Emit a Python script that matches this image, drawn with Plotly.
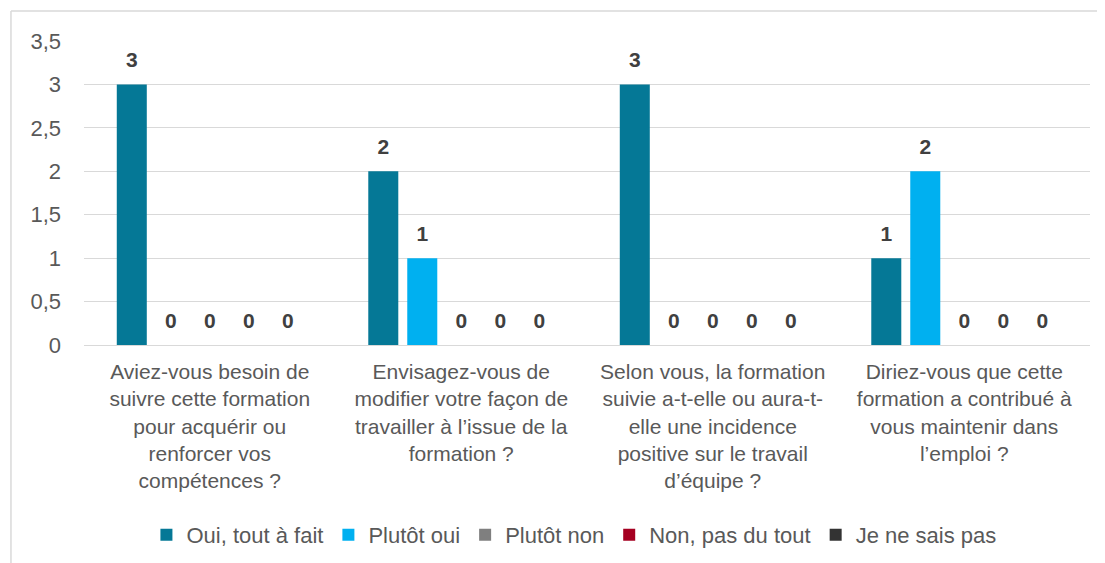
import plotly.graph_objects as go

categories = [
    "Aviez-vous besoin de<br>suivre cette formation<br>pour acquérir ou<br>renforcer vos<br>compétences ?",
    "Envisagez-vous de<br>modifier votre façon de<br>travailler à l’issue de la<br>formation ?",
    "Selon vous, la formation<br>suivie a-t-elle ou aura-t-<br>elle une incidence<br>positive sur le travail<br>d’équipe ?",
    "Diriez-vous que cette<br>formation a contribué à<br>vous maintenir dans<br>l’emploi ?",
]
series_names = ["Oui, tout à fait", "Plutôt oui", "Plutôt non", "Non, pas du tout", "Je ne sais pas"]
oui_tout_a_fait = [3, 2, 3, 1]
plutot_oui = [0, 1, 0, 2]
plutot_non = [0, 0, 0, 0]
non_pas_du_tout = [0, 0, 0, 0]
je_ne_sais_pas = [0, 0, 0, 0]
series_values = [oui_tout_a_fait, plutot_oui, plutot_non, non_pas_du_tout, je_ne_sais_pas]
colors = ["#057896", "#00B0F0", "#7F7F7F", "#A50021", "#333333"]
y_ticks = [0, 0.5, 1, 1.5, 2, 2.5, 3, 3.5]
y_tick_labels = ["0", "0,5", "1", "1,5", "2", "2,5", "3", "3,5"]

FONT = "Liberation Sans"
TXT = "#595959"

fig = go.Figure()
for i, (name, vals, col) in enumerate(zip(series_names, series_values, colors)):
    fig.add_trace(go.Bar(
        x=categories, y=vals, name=name, marker=dict(color=col, line=dict(width=0)),
        offsetgroup=str(i), hoverinfo="skip",
    ))
for i, (name, vals) in enumerate(zip(series_names, series_values)):
    fig.add_trace(go.Scatter(
        x=categories, y=vals, mode="markers+text", showlegend=False,
        offsetgroup=str(i), text=[str(v) for v in vals], textposition="top center",
        marker=dict(size=18, opacity=0), hoverinfo="skip",
        textfont=dict(family=FONT, size=21, color="#404040", weight="bold"), cliponaxis=False,
    ))

border = dict(color="#D9D9D9", width=1.5)
fig.update_layout(
    width=1105, height=563,
    barmode="group", bargap=0.225, bargroupgap=0.23,
    scattermode="group", scattergap=0.225,
    plot_bgcolor="white", paper_bgcolor="white",
    margin=dict(l=76, r=23, t=33, b=226, autoexpand=False),
    font=dict(family=FONT, size=22, color=TXT),
    showlegend=True,
    legend=dict(orientation="h", x=0.487, xanchor="center", xref="paper",
                y=1 - 527 / 563, yanchor="middle", yref="container",
                font=dict(family=FONT, size=22, color=TXT), traceorder="normal"),
    xaxis=dict(showgrid=False, showline=False, ticks="", automargin=False, ticklabelstandoff=12,
               tickfont=dict(size=21, color=TXT)),
    yaxis=dict(range=[0, 3.5], tickvals=y_ticks, ticktext=y_tick_labels, showgrid=True,
               gridcolor="#D9D9D9", gridwidth=1, zeroline=True, zerolinecolor="#D9D9D9",
               zerolinewidth=1, showline=False, ticks="", ticklabelstandoff=22, automargin=False,
               tickfont=dict(size=22, color=TXT)),
    shapes=[
        dict(type="line", xref="paper", yref="paper", x0=-0.0726, x1=1.05, y0=1.099, y1=1.099,
             line=border, layer="below"),
        dict(type="line", xref="paper", yref="paper", x0=-0.0726, x1=-0.0726, y0=-0.75, y1=1.099,
             line=border, layer="below"),
    ],
)
fig.write_html("out.html")
